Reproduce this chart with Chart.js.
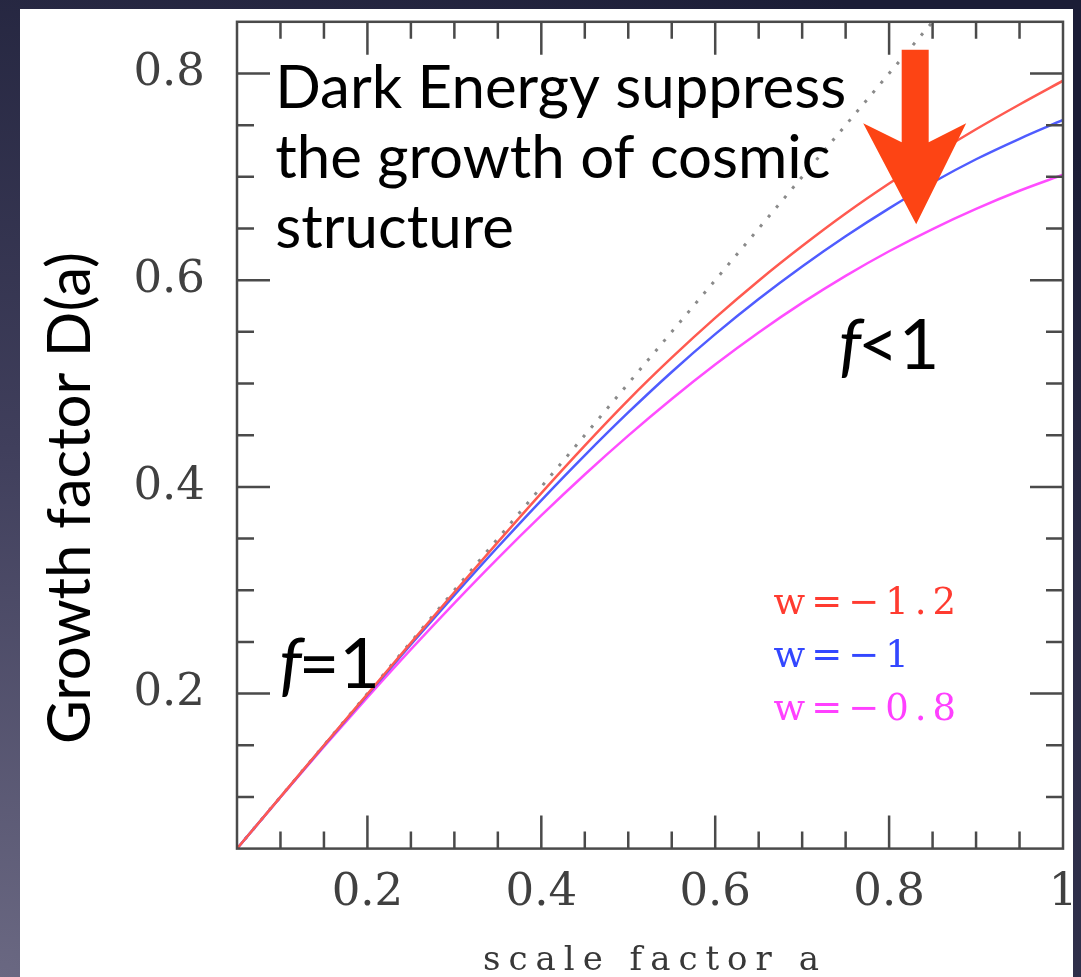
<!DOCTYPE html>
<html>
<head>
<meta charset="utf-8">
<title>Growth factor D(a)</title>
<script src="https://cdn.jsdelivr.net/npm/chart.js@4.4.1/dist/chart.umd.min.js"></script>
<style>
  html, body { margin: 0; padding: 0; }
  body {
    width: 1081px; height: 977px; overflow: hidden; position: relative;
    background: radial-gradient(ellipse 140% 120% at 0% 100%, #6a6882 0%, #403f5c 45%, #1b1d36 100%);
  }
  #panel { position: absolute; left: 20px; top: 9px; width: 1053px; height: 968px; background: #fff; }
  #wrap { position: absolute; left: 0; top: 0; width: 1081px; height: 977px; }
</style>
</head>
<body>
<div id="panel"></div>
<div id="wrap"><canvas id="growthChart"></canvas></div>
<script>
// scale factor samples and growth factor D(a) for three dark energy equations of state
const scaleFactor = [0.05, 0.10, 0.15, 0.20, 0.25, 0.30, 0.35, 0.40, 0.45, 0.50,
                     0.55, 0.60, 0.65, 0.70, 0.75, 0.80, 0.85, 0.90, 0.95, 1.00];
const growthW12 = [0.0500, 0.1000, 0.1500, 0.1995, 0.2490, 0.2980, 0.3465, 0.3940, 0.4400, 0.4840,
                   0.5250, 0.5635, 0.5995, 0.6330, 0.6645, 0.6935, 0.7205, 0.7460, 0.7700, 0.7930];
const growthW10 = [0.0500, 0.0999, 0.1496, 0.1988, 0.2475, 0.2952, 0.3418, 0.3870, 0.4305, 0.4720,
                   0.5112, 0.5478, 0.5818, 0.6133, 0.6425, 0.6695, 0.6945, 0.7170, 0.7368, 0.7550];
const growthW08 = [0.0500, 0.0997, 0.1486, 0.1963, 0.2427, 0.2876, 0.3309, 0.3724, 0.4120, 0.4496,
                   0.4851, 0.5184, 0.5494, 0.5780, 0.6042, 0.6280, 0.6495, 0.6690, 0.6865, 0.7020];
// matter only growth, D = a
const edsA = [0.05, 0.85];
const edsD = [0.05, 0.85];

const seriesLabels = ['w=\u22121.2', 'w=\u22121', 'w=\u22120.8'];
const xTickValues = [0.2, 0.4, 0.6, 0.8, 1.0];
const xTickLabels = ['0.2', '0.4', '0.6', '0.8', '1'];
const yTickValues = [0.2, 0.4, 0.6, 0.8];
const yTickLabels = ['0.2', '0.4', '0.6', '0.8'];

const lineColors = ['#ff5a50', '#4f5cff', '#ff4dff'];
const legendColors = ['#ff3b30', '#3347ff', '#ff40ff'];
const noteLines = ['Dark Energy suppress', 'the growth of cosmic', 'structure'];

const SANS = 'Lato, "Open Sans", sans-serif';
const SERIF = '"DejaVu Serif", serif';

function pairs(xs, ys) {
    return xs.map((v, i) => ({ x: v, y: ys[i] }));
}

// tick labels sit inside fixed margins, so keep them from growing the layout
function noLabelPadding(s) {
    s.paddingTop = 0;
    s.paddingBottom = 0;
    s.paddingLeft = 0;
    s.paddingRight = 0;
}

// box around the plot with inward ticks on all four sides
const axisFrame = {
    id: 'axisFrame',
    afterDatasetsDraw(chart) {
        const { ctx, chartArea: area, scales: { x, y } } = chart;
        ctx.save();
        ctx.strokeStyle = '#4a4a4a';
        ctx.lineWidth = 2.5;
        ctx.beginPath();
        for (let k = 2; k < 20; k++) {
            const px = x.getPixelForValue(k * 0.05);
            const len = k % 4 === 0 ? 33 : 17;
            ctx.moveTo(px, area.bottom); ctx.lineTo(px, area.bottom - len);
            ctx.moveTo(px, area.top); ctx.lineTo(px, area.top + len);
        }
        for (let k = 2; k < 17; k++) {
            const py = y.getPixelForValue(k * 0.05);
            const len = k % 4 === 0 ? 33 : 17;
            ctx.moveTo(area.left, py); ctx.lineTo(area.left + len, py);
            ctx.moveTo(area.right, py); ctx.lineTo(area.right - len, py);
        }
        ctx.stroke();
        ctx.strokeRect(area.left, area.top, area.right - area.left, area.bottom - area.top);
        ctx.restore();
    }
};

function italicLabel(ctx, head, rest, px, py, size) {
    ctx.font = 'italic ' + size + 'px ' + SANS;
    ctx.fillText(head, px, py);
    const w = ctx.measureText(head).width;
    ctx.font = size + 'px ' + SANS;
    ctx.fillText(rest, px + w - 3, py);
}

// titles, notes, legend and arrow
const annotations = {
    id: 'annotations',
    afterDraw(chart) {
        const { ctx, scales: { x, y } } = chart;
        ctx.save();
        ctx.textAlign = 'left';
        ctx.textBaseline = 'alphabetic';

        // y axis title
        ctx.save();
        ctx.translate(90, 498);
        ctx.rotate(-Math.PI / 2);
        ctx.textAlign = 'center';
        ctx.fillStyle = '#000';
        ctx.font = '60px ' + SANS;
        ctx.fillText('Growth factor D(a)', 0, 0);
        ctx.restore();

        // x axis title
        ctx.fillStyle = '#383838';
        ctx.font = '34px ' + SERIF;
        ctx.letterSpacing = '8px';
        ctx.fillText('scale factor a', 483, 970);
        ctx.letterSpacing = '0px';

        // note in the upper left
        ctx.fillStyle = '#000';
        ctx.font = '60px ' + SANS;
        const nx = x.getPixelForValue(0.094);
        const ny = y.getPixelForValue(0.767);
        noteLines.forEach((t, i) => ctx.fillText(t, nx, ny + i * 70));

        italicLabel(ctx, 'f', '=1', x.getPixelForValue(0.0986), y.getPixelForValue(0.2056), 70);
        italicLabel(ctx, 'f', '<1', x.getPixelForValue(0.742), y.getPixelForValue(0.514), 70);

        // legend
        ctx.font = '37px ' + SERIF;
        ctx.letterSpacing = '6px';
        const lx = x.getPixelForValue(0.667);
        const ly = y.getPixelForValue(0.277);
        chart.data.datasets.slice(0, 3).forEach((ds, i) => {
            ctx.fillStyle = legendColors[i];
            ctx.fillText(ds.label, lx, ly + i * 53);
        });
        ctx.letterSpacing = '0px';

        // arrow pointing down at the suppressed curves
        const cx = x.getPixelForValue(0.83);
        const yTop = y.getPixelForValue(0.823);
        const yTip = y.getPixelForValue(0.654);
        ctx.fillStyle = '#fd4414';
        ctx.beginPath();
        ctx.moveTo(cx - 13.5, yTop);
        ctx.lineTo(cx + 13.5, yTop);
        ctx.lineTo(cx + 13.5, yTip - 82);
        ctx.lineTo(cx + 51, yTip - 101);
        ctx.lineTo(cx + 1, yTip);
        ctx.lineTo(cx - 52, yTip - 101);
        ctx.lineTo(cx - 13.5, yTip - 82);
        ctx.closePath();
        ctx.fill();

        ctx.restore();
    }
};

function createChart() {
    const ctx = document.getElementById('growthChart').getContext('2d');
    const curve = (label, data, color) => ({
        label: label,
        data: data,
        borderColor: color,
        borderWidth: 2.5,
        pointRadius: 0,
        fill: false,
        cubicInterpolationMode: 'monotone'
    });

    new Chart(ctx, {
        type: 'line',
        data: {
            datasets: [
                curve(seriesLabels[0], pairs(scaleFactor, growthW12), lineColors[0]),
                curve(seriesLabels[1], pairs(scaleFactor, growthW10), lineColors[1]),
                curve(seriesLabels[2], pairs(scaleFactor, growthW08), lineColors[2]),
                {
                    label: 'D=a',
                    data: pairs(edsA, edsD),
                    borderColor: '#8a8a8a',
                    borderWidth: 3,
                    borderDash: [3, 9.5],
                    pointRadius: 0,
                    fill: false
                }
            ]
        },
        options: {
            responsive: true,
            maintainAspectRatio: false,
            animation: false,
            layout: { padding: { top: 21.8, right: 18, left: 0, bottom: 0 } },
            plugins: {
                legend: { display: false },
                tooltip: { enabled: false }
            },
            scales: {
                x: {
                    type: 'linear',
                    min: 0.05,
                    max: 1.0,
                    grid: { display: false, drawTicks: false },
                    border: { display: false },
                    afterBuildTicks: s => { s.ticks = xTickValues.map(v => ({ value: v })); },
                    afterFit: s => { s.height = 128.4; noLabelPadding(s); },
                    ticks: {
                        autoSkip: false,
                        maxRotation: 0,
                        padding: 18,
                        color: '#404040',
                        font: { family: SERIF, size: 45 },
                        callback: (v, i) => xTickLabels[i]
                    }
                },
                y: {
                    type: 'linear',
                    min: 0.05,
                    max: 0.85,
                    grid: { display: false, drawTicks: false },
                    border: { display: false },
                    afterBuildTicks: s => { s.ticks = yTickValues.map(v => ({ value: v })); },
                    afterFit: s => { s.width = 237; noLabelPadding(s); },
                    ticks: {
                        autoSkip: false,
                        padding: 32,
                        color: '#404040',
                        font: { family: SERIF, size: 45 },
                        callback: (v, i) => yTickLabels[i]
                    }
                }
            }
        },
        plugins: [axisFrame, annotations]
    });
}

window.onload = createChart;
</script>
</body>
</html>
